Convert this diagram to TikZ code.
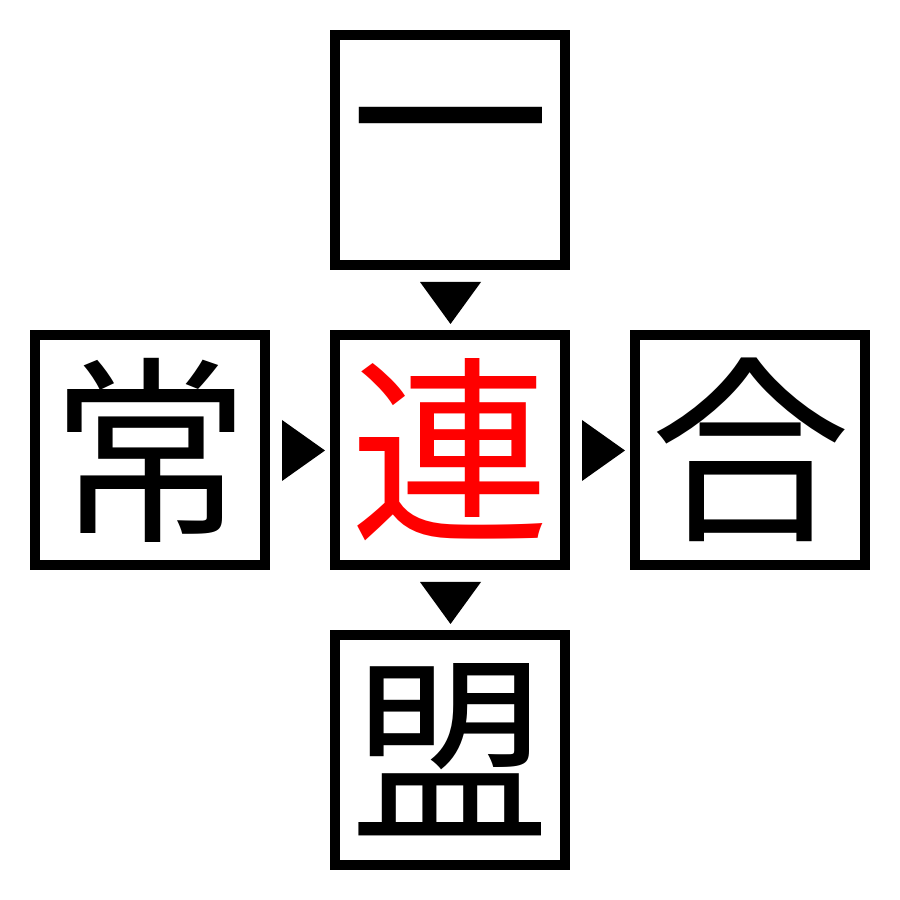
\documentclass[tikz,border=0pt]{standalone}
\usepackage{fontspec}
\newfontfamily\cjk{Noto Sans CJK JP}
\usepackage{tikz}
\usetikzlibrary{positioning}

\tikzset{
  kanjibox/.style={draw=black,line width=10bp,minimum size=230bp,inner sep=0pt,
    font=\cjk\fontsize{200bp}{200bp}\selectfont},
}

\begin{document}
\begin{tikzpicture}[>=latex,line join=miter,]
\useasboundingbox (0bp,0bp) rectangle (900bp,900bp);
%%
\node (node_0) at (450bp,750bp) [kanjibox] {一};
  \node (node_1) at (150bp,450bp) [kanjibox] {常};
  \node (node_2) at (450bp,450bp) [kanjibox,text=red] {連};
  \node (node_3) at (750bp,450bp) [kanjibox] {合};
  \node (node_4) at (450bp,150bp) [kanjibox] {盟};
  \fill [black] (420bp,618bp) -- (481bp,618bp) -- (450.5bp,576bp) -- cycle;
  \fill [black] (282bp,480bp) -- (282bp,419bp) -- (325bp,449.5bp) -- cycle;
  \fill [black] (582bp,480bp) -- (582bp,419bp) -- (625bp,449.5bp) -- cycle;
  \fill [black] (420bp,318bp) -- (481bp,318bp) -- (450.5bp,276bp) -- cycle;
%
\end{tikzpicture}
\end{document}
